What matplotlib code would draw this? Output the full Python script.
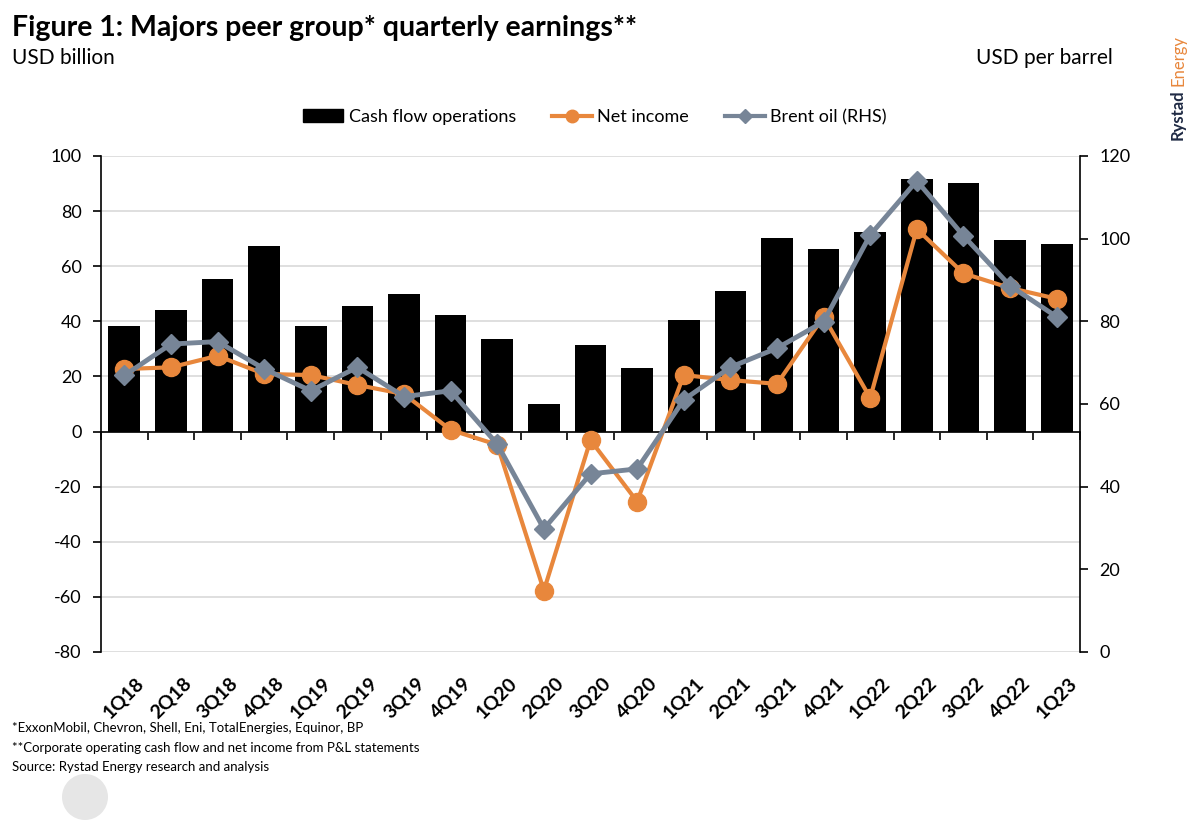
import matplotlib
matplotlib.use("Agg")
import matplotlib.pyplot as plt
import matplotlib.transforms as mtransforms
from matplotlib.patches import Ellipse
from matplotlib.lines import Line2D
from matplotlib.patches import Patch
import numpy as np

plt.rcParams['font.family'] = ['Lato', 'DejaVu Sans']
plt.rcParams['axes.unicode_minus'] = False

quarters = ["1Q18", "2Q18", "3Q18", "4Q18", "1Q19", "2Q19", "3Q19", "4Q19",
            "1Q20", "2Q20", "3Q20", "4Q20", "1Q21", "2Q21", "3Q21", "4Q21",
            "1Q22", "2Q22", "3Q22", "4Q22", "1Q23"]
cash_flow = [38.3, 44.1, 55.4, 67.3, 38.3, 45.6, 49.9, 42.3, 33.6, 10.0, 31.4,
             23.1, 40.5, 51.0, 70.2, 66.2, 72.5, 91.6, 90.2, 69.5, 68.1]
net_income = [22.7, 23.3, 27.5, 20.9, 20.5, 16.9, 13.6, 0.6, -4.8, -57.7, -3.1,
              -25.4, 20.5, 18.7, 17.3, 41.7, 12.2, 73.5, 57.4, 52.1, 48.2]
brent = [66.9, 74.5, 75.1, 68.5, 63.2, 68.9, 61.8, 63.2, 50.3, 29.8, 43.1,
         44.3, 61.0, 68.9, 73.5, 79.9, 100.9, 114.0, 100.7, 88.6, 81.1]
left_ticks = [-80, -60, -40, -20, 0, 20, 40, 60, 80, 100]
right_ticks = [0, 20, 40, 60, 80, 100, 120]

ORANGE = '#E8873C'
GREY = '#778597'

W, H = 1192, 825
fig = plt.figure(figsize=(W / 100, H / 100), dpi=100)
ax = fig.add_axes([101 / W, 1 - 652 / H, (1080 - 101) / W, (652 - 156) / H])
ax2 = ax.twinx()

x = np.arange(len(quarters))
ax.bar(x, cash_flow, width=0.68, color='black', zorder=2)
ax.plot(x, net_income, color=ORANGE, lw=3, marker='o', ms=13, zorder=3)
ax2.plot(x, brent, color=GREY, lw=3.5, marker='D', ms=10, zorder=4)

ax.set_xlim(-0.5, len(quarters) - 0.5)
ax.set_ylim(-80, 100)
ax2.set_ylim(0, 120)
ax.set_yticks(left_ticks)
ax2.set_yticks(right_ticks)
ax.yaxis.grid(True, color='#D9D9D9', lw=1.2, zorder=0)
ax.set_axisbelow(True)

for s in ['top', 'right']:
    ax.spines[s].set_visible(False)
for s in ['top', 'left', 'bottom']:
    ax2.spines[s].set_visible(False)
ax.spines['bottom'].set_position(('data', 0))
ax.spines['bottom'].set_linewidth(1.2)
ax.spines['left'].set_linewidth(1.2)
ax2.spines['right'].set_linewidth(1.2)

ax.set_xticks(x)
ax.set_xticklabels([])
ax.tick_params(axis='x', which='major', length=0)
ax.set_xticks(np.arange(len(quarters) + 1) - 0.5, minor=True)
ax.tick_params(axis='x', which='minor', length=6, width=1.2, direction='out')
ax.tick_params(axis='y', length=6, width=1.2, labelsize=13, pad=8)
ax2.tick_params(axis='y', length=6, width=1.2, labelsize=13, pad=8)

trans = mtransforms.blended_transform_factory(ax.transData, ax.transAxes)
for xi, q in zip(x, quarters):
    ax.text(xi + 0.24, -0.045, q, transform=trans, rotation=45, ha='right',
            va='top', rotation_mode='anchor', fontsize=14, fontweight='bold')

handles = [Patch(facecolor='black', edgecolor='black'),
           Line2D([], [], color=ORANGE, lw=3, marker='o', ms=9),
           Line2D([], [], color=GREY, lw=3, marker='D', ms=7)]
fig.legend(handles, ['Cash flow operations', 'Net income', 'Brent oil (RHS)'],
           loc='center', bbox_to_anchor=(595 / W, 1 - 117 / H), ncol=3,
           frameon=False, fontsize=13, handlelength=2.2, columnspacing=2.0,
           handletextpad=0.3)

fig.text(12 / W, 1 - 28 / H, 'Figure 1: Majors peer group* quarterly earnings**',
         fontsize=20.5, fontweight='bold', va='center', ha='left')
fig.text(12 / W, 1 - 58 / H, 'USD billion', fontsize=15, va='center', ha='left')
fig.text(1113 / W, 1 - 58 / H, 'USD per barrel', fontsize=15, va='center', ha='right')

fig.text(1178 / W, 1 - 140 / H, 'Rystad', rotation=90, fontsize=12,
         fontweight='bold', color='#1F2A44', ha='center', va='bottom')
fig.text(1178 / W, 1 - 86 / H, 'Energy', rotation=90, fontsize=12,
         color='#E8873C', ha='center', va='bottom')

foot = ['*ExxonMobil, Chevron, Shell, Eni, TotalEnergies, Equinor, BP',
        '**Corporate operating cash flow and net income from P&L statements',
        'Source: Rystad Energy research and analysis']
for i, t in enumerate(foot):
    fig.text(12 / W, 1 - (728 + 19.5 * i) / H, t, fontsize=9.5, va='center', ha='left')

circ = Ellipse((85 / W, 1 - 797 / H), 46 / W, 46 / H, transform=fig.transFigure,
               facecolor='#E6E6E6', edgecolor='none')
fig.patches.append(circ)

fig.savefig('out.png', dpi=100)
